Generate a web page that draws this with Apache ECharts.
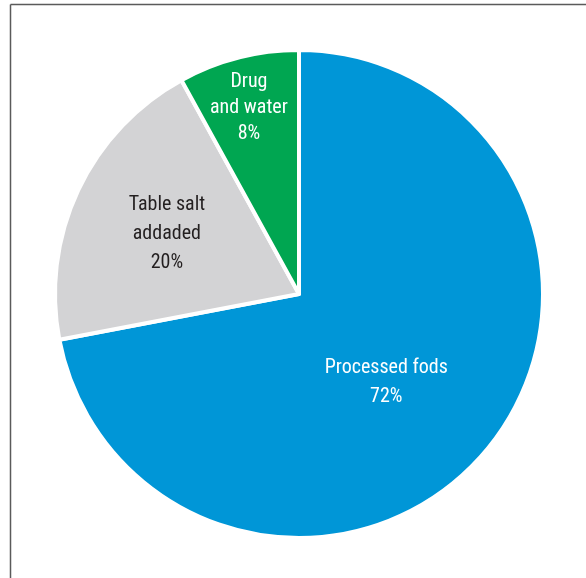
<!DOCTYPE html>
<html>
<head>
<meta charset="utf-8">
<script src="https://cdn.jsdelivr.net/npm/echarts@6/dist/echarts.min.js"></script>
<style>
  html, body { margin: 0; padding: 0; background: #fff; }
  #main { width: 586px; height: 578px; }
</style>
</head>
<body>
<div id="main"></div>
<script>
// data
var categories = ['Processed fods', 'Table salt\naddaded', 'Drug\nand water'];
var values = [72, 20, 8];
var colors = ['#0096D7', '#D3D3D5', '#00A651'];
var labelColors = ['#ffffff', '#231F20', '#ffffff'];
// nudges for the inside labels
var labelShift = [[-9, 9], [-19, -7], [-19, -65]];

var myChart = echarts.init(document.getElementById('main'));

var pieData = categories.map(function (name, i) {
    return {
        name: name,
        value: values[i],
        itemStyle: { color: colors[i] },
        label: { color: labelColors[i], lineHeight: i === 2 ? 26 : 29 }
    };
});

var option = {
    backgroundColor: '#fff',
    animation: false,
    graphic: [
        { type: 'line', shape: { x1: 10.5, y1: 4.5, x2: 586, y2: 4.5 }, style: { stroke: '#5a5a5a', lineWidth: 1.5 } },
        { type: 'line', shape: { x1: 10.5, y1: 4.5, x2: 10.5, y2: 578 }, style: { stroke: '#5a5a5a', lineWidth: 1.5 } }
    ],
    series: [
        {
            type: 'pie',
            center: [299, 294],
            radius: [0, 244],
            startAngle: 90,
            clockwise: true,
            silent: true,
            itemStyle: { borderColor: '#fff', borderWidth: 4 },
            label: {
                show: true,
                position: 'inside',
                formatter: '{b}\n{c}%',
                fontFamily: '"Liberation Sans Narrow", "Roboto Condensed", "Arial Narrow", sans-serif',
                fontSize: 20,
                align: 'center'
            },
            labelLine: { show: false },
            labelLayout: function (params) {
                var s = labelShift[params.dataIndex];
                return { dx: s[0], dy: s[1] };
            },
            data: pieData
        }
    ]
};

myChart.setOption(option);
</script>
</body>
</html>
